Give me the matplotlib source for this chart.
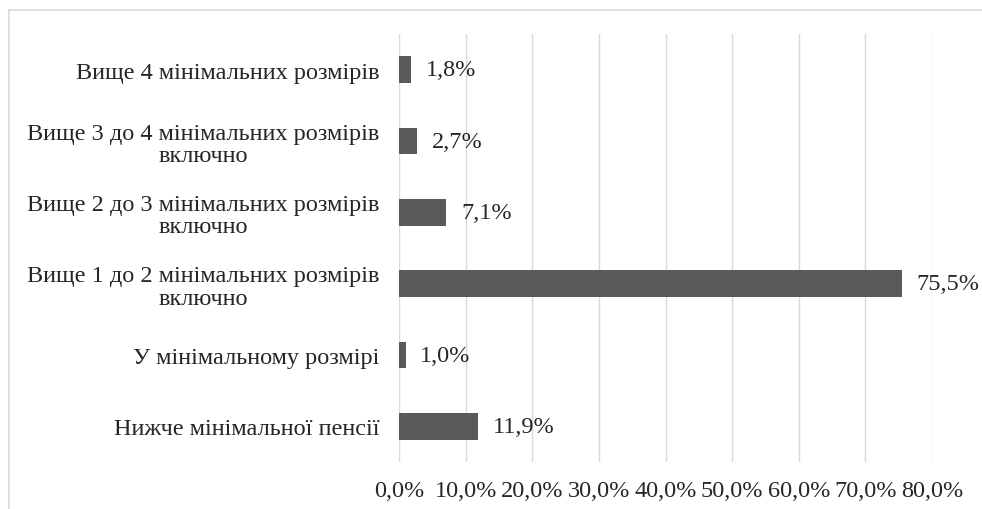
import matplotlib.pyplot as plt
from matplotlib.lines import Line2D

# categories listed bottom to top
categories = [
    "Нижче мінімальної пенсії",
    "У мінімальному розмірі",
    "Вище 1 до 2 мінімальних розмірів\nвключно",
    "Вище 2 до 3 мінімальних розмірів\nвключно",
    "Вище 3 до 4 мінімальних розмірів\nвключно",
    "Вище 4 мінімальних розмірів",
]
values = [11.9, 1.0, 75.5, 7.1, 2.7, 1.8]
xticks = [0, 10, 20, 30, 40, 50, 60, 70, 80]

plt.rcParams['font.family'] = ['Liberation Serif', 'DejaVu Serif']
plt.rcParams['font.size'] = 17.5

W, H = 982, 510
fig = plt.figure(figsize=(W / 100, H / 100), dpi=100)
ax = fig.add_axes([399 / W, 1 - 463 / H, (932 - 399) / W, (463 - 35) / H])

ypos = list(range(len(categories)))
ax.barh(ypos, values, height=0.37, color='#5a5a5a', zorder=3)

for y, v in zip(ypos, values):
    ax.annotate(f"{v:.1f}%".replace('.', ','), (v, y), xytext=(10.5, 0),
                textcoords='offset points', va='center', ha='left',
                color='#262626', clip_on=False)

ax.set_xlim(0, 80)
ax.set_ylim(-0.5, len(categories) - 0.5)
ax.set_xticks(xticks)
ax.set_xticklabels([f"{t:.1f}%".replace('.', ',') for t in xticks], color='#262626')
ax.set_yticks(ypos)
ax.set_yticklabels(categories, color='#262626', multialignment='center', linespacing=1.1)
ax.tick_params(axis='both', length=0)
ax.tick_params(axis='y', pad=14)
ax.tick_params(axis='x', pad=13)
ax.xaxis.grid(True, color='#d9d9d9', linewidth=1, zorder=0)
for s in ax.spines.values():
    s.set_visible(False)

# outer chart frame (top and left edges visible)
fig.add_artist(Line2D([8.5 / W, 1], [1 - 10.5 / H, 1 - 10.5 / H], color='#d9d9d9', lw=1.2))
fig.add_artist(Line2D([8.5 / W, 8.5 / W], [0, 1 - 10.5 / H], color='#d9d9d9', lw=1.2))

fig.savefig('out.png', dpi=100)
